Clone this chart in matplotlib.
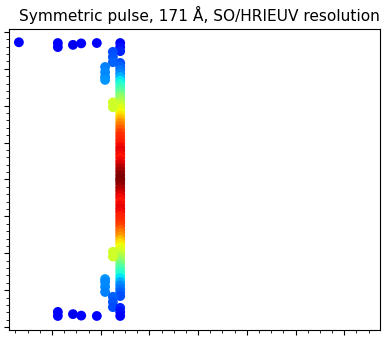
import numpy as np
import matplotlib
matplotlib.use("Agg")
import matplotlib.pyplot as plt
from matplotlib.ticker import MultipleLocator, AutoMinorLocator

# scattered points (x, y, colour value)
pts_x = [-0.68, 0.12, 0.12, 0.43, 0.60, 0.92, 1.40, 1.40, 1.40,
         1.25, 1.25, 1.25, 1.09, 1.09, 1.09, 1.09, 1.25, 1.25,
         1.25, 1.25, 1.09, 1.09, 1.09, 1.09, 1.25, 1.25, 1.25,
         1.40, 1.40, 1.40, 0.12, 0.12, 0.43, 0.60, 0.92]
pts_y = [3.72, 3.70, 3.59, 3.65, 3.69, 3.70, 3.70, 3.59, 3.48,
         3.46, 3.32, 3.18, 3.05, 2.91, 2.78, 2.70, 2.09, 1.96,
         -1.96, -2.09, -2.70, -2.78, -2.91, -3.05, -3.18, -3.32, -3.46,
         -3.48, -3.59, -3.70, -3.59, -3.70, -3.65, -3.69, -3.70]
pts_c = [0.11, 0.12, 0.12, 0.10, 0.11, 0.11, 0.12, 0.14, 0.16,
         0.20, 0.21, 0.22, 0.25, 0.26, 0.26, 0.27, 0.60, 0.60,
         0.60, 0.60, 0.27, 0.26, 0.26, 0.25, 0.22, 0.21, 0.20,
         0.16, 0.14, 0.12, 0.12, 0.12, 0.10, 0.11, 0.11]

# main column
bar_x = 1.40
bar_y = [3.16, 3.06, 2.97, 2.87, 2.78, 2.68, 2.59, 2.49, 2.40, 2.30,
         2.21, 2.11, 2.02, 1.92, 1.83, 1.73, 1.64, 1.54, 1.45, 1.36,
         1.26, 1.17, 1.07, 0.98, 0.88, 0.79, 0.69, 0.60, 0.50, 0.41,
         0.31, 0.22, 0.12, 0.03,
         -0.03, -0.12, -0.22, -0.31, -0.41, -0.50, -0.60, -0.69, -0.79, -0.88,
         -0.98, -1.07, -1.17, -1.26, -1.36, -1.45, -1.54, -1.64, -1.73, -1.83,
         -1.92, -2.02, -2.11, -2.21, -2.30, -2.40, -2.49, -2.59, -2.68, -2.78,
         -2.87, -2.97, -3.06, -3.16]
bar_c = [0.20, 0.22, 0.24, 0.26, 0.30, 0.35, 0.39, 0.42, 0.45, 0.49,
         0.53, 0.56, 0.59, 0.62, 0.64, 0.67, 0.71, 0.75, 0.78, 0.81,
         0.84, 0.86, 0.87, 0.88, 0.90, 0.91, 0.90, 0.89, 0.90, 0.92,
         0.95, 0.97, 0.99, 1.00,
         1.00, 0.99, 0.97, 0.95, 0.92, 0.90, 0.89, 0.90, 0.91, 0.90,
         0.88, 0.87, 0.86, 0.84, 0.81, 0.78, 0.75, 0.71, 0.67, 0.64,
         0.62, 0.59, 0.56, 0.53, 0.49, 0.45, 0.42, 0.39, 0.35, 0.30,
         0.26, 0.24, 0.22, 0.20]

fig = plt.figure(figsize=(3.85, 3.38), dpi=100)
ax = fig.add_axes([0.0234, 0.0237, 0.9636, 0.8905])

ax.scatter([bar_x] * len(bar_y), bar_y, c=bar_c, cmap='jet', vmin=0, vmax=1, s=50, linewidths=0)
ax.scatter(pts_x, pts_y, c=pts_c, cmap='jet', vmin=0, vmax=1, s=50, linewidths=0)

ax.set_xlim(-0.883, 6.735)
ax.set_ylim(-4.08, 4.08)
ax.xaxis.set_major_locator(MultipleLocator(1))
ax.xaxis.set_minor_locator(AutoMinorLocator(4))
ax.yaxis.set_major_locator(MultipleLocator(1))
ax.yaxis.set_minor_locator(AutoMinorLocator(5))
ax.tick_params(labelbottom=False, labelleft=False)
ax.set_title("Symmetric pulse, 171 Å, SO/HRIEUV resolution", fontsize=11.1, x=0.513)

fig.savefig("out.png", dpi=100)
